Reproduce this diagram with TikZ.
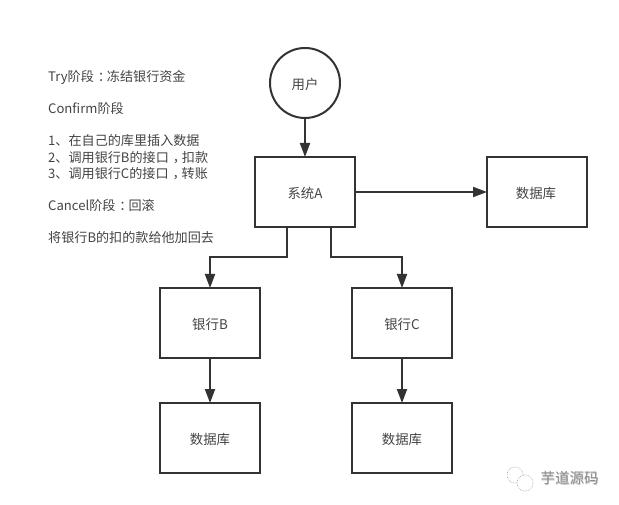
\documentclass[tikz,border=0pt]{standalone}
\usepackage{fontspec}
\setmainfont{Noto Sans CJK SC}
\usetikzlibrary{arrows.meta}
\definecolor{ink}{HTML}{333333}
\definecolor{txt}{HTML}{444444}
\newcommand{\midpunct}[1]{\hbox to 1em{\kern.3em #1\hss}}
\tikzset{
  x=1pt,y=-1pt,
  box/.style={draw=ink,line width=2pt,minimum width=100pt,minimum height=70pt,inner sep=0pt,outer sep=0pt,text=txt},
  boxlabel/.style={inner sep=0pt,font=\fontsize{13.4pt}{15pt}\selectfont,text=txt},
  usr/.style={draw=ink,line width=2pt,circle,minimum size=70pt,inner sep=0pt,outer sep=0pt},
  note/.style={anchor=west,inner sep=0pt,font=\fontsize{13.1pt}{15pt}\selectfont,text=txt},
  conn/.style={draw=ink,line width=2pt,-{Triangle[length=14pt,width=10pt]}},
  bubble/.style={draw=gray!60,line width=0.7pt,densely dotted},
  wm/.style={inner sep=0pt,font=\fontsize{14.5pt}{16pt}\selectfont}
}
\begin{document}
\begin{tikzpicture}
\useasboundingbox[fill=white] (0,0) rectangle (619,505);
\node[usr] (user) at (305,83) {};
\node[boxlabel] (userlabel) at (305,84) {用户};
\node[box] (A) at (305,192) {};
\node[boxlabel] (Alabel) at (305,193) {系统A};
\node[box] (db) at (537,192) {};
\node[boxlabel] (dblabel) at (536,193) {数据库};
\node[box] (B) at (210,323) {};
\node[boxlabel] (Blabel) at (210,324) {银行B};
\node[box] (C) at (402,323) {};
\node[boxlabel] (Clabel) at (402,324) {银行C};
\node[box] (dbB) at (210,438) {};
\node[boxlabel] (dbBlabel) at (210,439) {数据库};
\node[box] (dbC) at (402,438) {};
\node[boxlabel] (dbClabel) at (402,439) {数据库};
\draw[conn] (user) -- (A);
\draw[conn] (A) -- (db);
\draw[conn] ([xshift=-18pt]A.south) -- ++(0,30) -| (B.north);
\draw[conn] ([xshift=26pt]A.south) -- ++(0,30) -| (C.north);
\draw[conn] (B) -- (dbB);
\draw[conn] (C) -- (dbC);
\node[note] (n1) at (48,77) {Try阶段\midpunct{：}冻结银行资金};
\node[note] (n2) at (48,109) {Confirm阶段};
\node[note] (n3) at (48,141) {1、在自己的库里插入数据};
\node[note] (n4) at (48,158) {2、调用银行B的接口\midpunct{，}扣款};
\node[note] (n5) at (48,174) {3、调用银行C的接口\midpunct{，}转账};
\node[note] (n6) at (48,206) {Cancel阶段\midpunct{：}回滚};
\node[note] (n7) at (48,238) {将银行B的扣的款给他加回去};
\draw[bubble] (515,475) circle[radius=8];
\fill[white] (525,483) circle[radius=8];
\draw[bubble] (525,483) circle[radius=8];
\node[wm,text=gray!45] (wmshadow) at (570,479) {芋道源码};
\node[wm,text=gray!90] (wmtext) at (569.5,478) {芋道源码};
\end{tikzpicture}
\end{document}
